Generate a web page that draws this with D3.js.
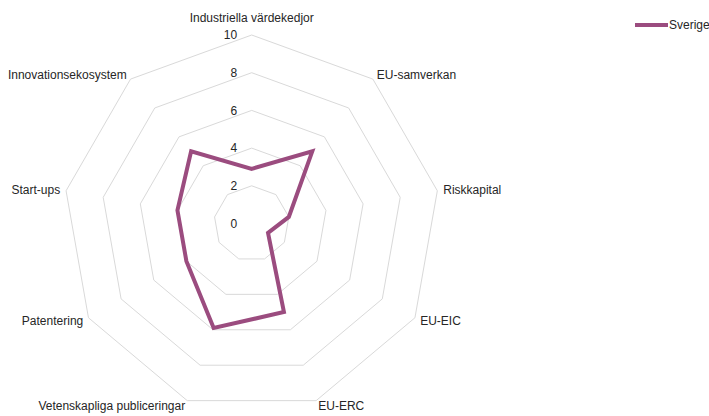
<!DOCTYPE html>
<html>
<head>
<meta charset="utf-8">
<title>Sverige radar</title>
<script src="https://cdnjs.cloudflare.com/ajax/libs/d3/7.8.5/d3.min.js"></script>
<style>
  body { margin: 0; background: #fff; }
  text { font-family: "Liberation Sans", Arial, sans-serif; fill: #262626; }
</style>
</head>
<body>
<script>
// data
var categories = ["Industriella värdekedjor", "EU-samverkan", "Riskkapital", "EU-EIC", "EU-ERC",
                  "Vetenskapliga publiceringar", "Patentering", "Start-ups", "Innovationsekosystem"];
var sverige = [2.9, 5.0, 2.0, 1.0, 5.0, 5.9, 4.0, 4.0, 5.0];
var ticks = [0, 2, 4, 6, 8, 10];
var seriesName = "Sverige";

var w = 709, h = 416;
var cx = 251.7, cy = 223.5, R = 188.5;
var lineColor = "#9b4c7f";

var svg = d3.select("body").append("svg")
  .attr("width", w)
  .attr("height", h);

var r = d3.scaleLinear().domain([0, 10]).range([0, R]);
var angle = d3.scaleLinear().domain([0, categories.length]).range([0, 2 * Math.PI]);

function px(i, v) { return cx + r(v) * Math.sin(angle(i)); }
function py(i, v) { return cy - r(v) * Math.cos(angle(i)); }

// grid rings (skip 0, it is just the centre)
ticks.filter(function(t) { return t > 0; }).forEach(function(t) {
  var pts = categories.map(function(c, i) { return [px(i, t), py(i, t)]; });
  svg.append("polygon")
    .attr("points", pts.map(function(p) { return p.join(","); }).join(" "))
    .attr("fill", "none")
    .attr("stroke", "#d9d9d9")
    .attr("stroke-width", 1);
});

// tick labels on the vertical axis
svg.selectAll(".tick")
  .data(ticks)
  .enter().append("text")
  .attr("class", "tick")
  .attr("x", cx - 14.5)
  .attr("y", function(d) { return cy - r(d); })
  .attr("dy", "0.35em")
  .attr("text-anchor", "end")
  .attr("font-size", 12)
  .text(function(d) { return d; });

// category labels
categories.forEach(function(c, i) {
  var a = angle(i);
  var s = Math.sin(a);
  var x = cx + (R + 6) * s;
  var y = cy - (R + 6) * Math.cos(a);
  var anchor = "middle";
  if (s > 0.1) anchor = "start";
  if (s < -0.1) anchor = "end";
  if (i == 0) y = y - 11;
  svg.append("text")
    .attr("x", x)
    .attr("y", y)
    .attr("dy", "0.35em")
    .attr("text-anchor", anchor)
    .attr("font-size", 12)
    .text(c);
});

// series line
var line = d3.lineRadial()
  .angle(function(d, i) { return angle(i); })
  .radius(function(d) { return r(d); })
  .curve(d3.curveLinearClosed);

svg.append("path")
  .attr("transform", "translate(" + cx + "," + cy + ")")
  .attr("d", line(sverige))
  .attr("fill", "none")
  .attr("stroke", lineColor)
  .attr("stroke-width", 4)
  .attr("stroke-linejoin", "miter");

// legend
var lg = svg.append("g").attr("transform", "translate(635,25)");
lg.append("line")
  .attr("x1", 0).attr("x2", 33)
  .attr("y1", 0).attr("y2", 0)
  .attr("stroke", lineColor)
  .attr("stroke-width", 4);
lg.append("text")
  .attr("x", 34)
  .attr("y", 0)
  .attr("dy", "0.35em")
  .attr("font-size", 12)
  .text(seriesName);
</script>
</body>
</html>
